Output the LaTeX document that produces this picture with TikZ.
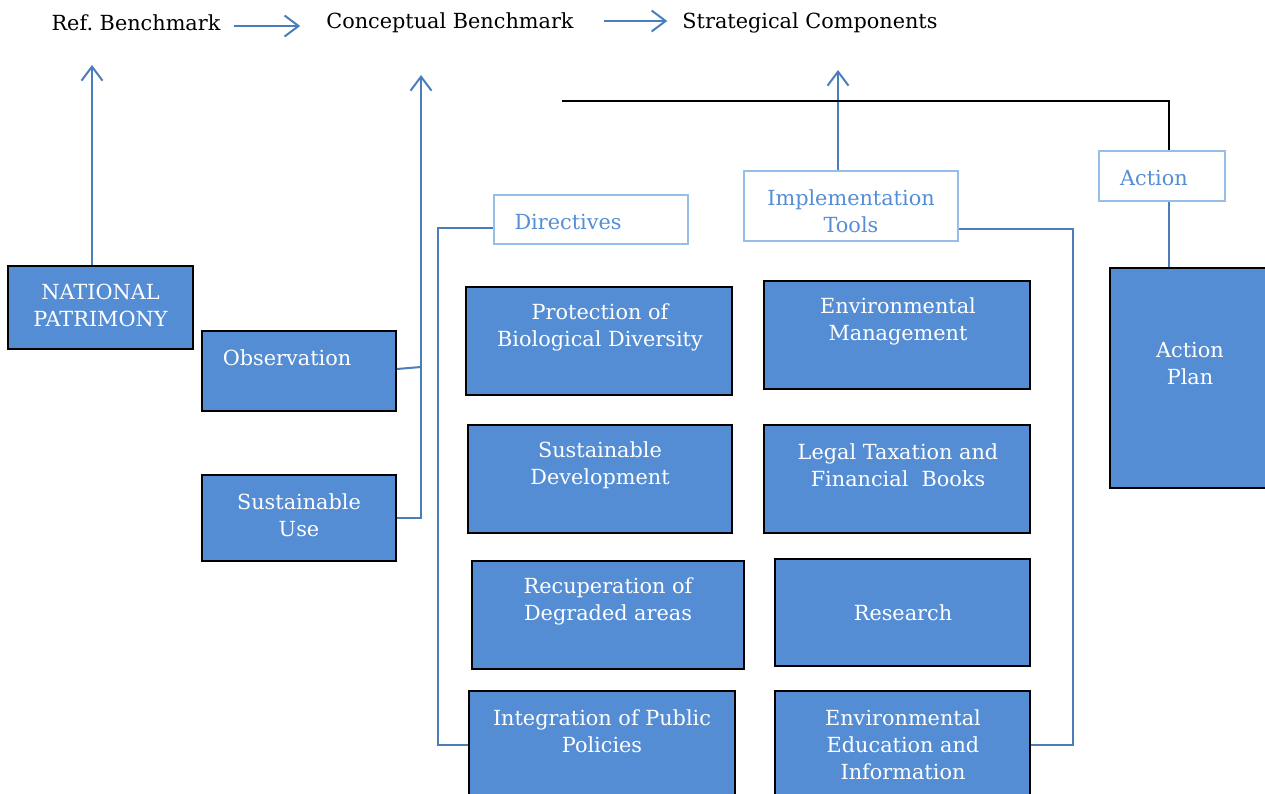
\documentclass[tikz,border=0pt]{standalone}
\usepackage{fontspec}
\setmainfont{DejaVu Serif}
\usetikzlibrary{arrows.meta}
\definecolor{boxblue}{RGB}{84,141,212}
\definecolor{linkblue}{RGB}{74,126,187}
\definecolor{paleblue}{RGB}{150,190,230}
\definecolor{headblue}{RGB}{85,142,213}
\begin{document}
\begin{tikzpicture}[x=1pt,y=-1pt,
  every node/.style={font=\fontsize{20.8}{27}\selectfont},
  bluebox/.style={draw=black, line width=2pt, fill=boxblue, inner sep=0pt},
  boxtxt/.style={text=white, align=center, inner sep=0pt},
  headbox/.style={draw=paleblue, line width=2pt, fill=white, inner sep=0pt},
  headtxt/.style={text=headblue, align=center, inner sep=0pt},
  conn/.style={draw=linkblue, line width=2pt},
  arr/.style={conn, -{Straight Barb[length=14pt,width=21pt,line width=2pt]}},
  topline/.style={draw=black, line width=2.2pt}]
\useasboundingbox (0,0) rectangle (1265,794);
\clip (0,0) rectangle (1265,794);

% heading chain
\node[inner sep=0pt] (ref) at (136,23) {Ref.\ Benchmark};
\node[inner sep=0pt] (con) at (450,23) {Conceptual Benchmark};
\node[inner sep=0pt] (str) at (810,23) {Strategical Components};
\draw[arr, shorten <=13pt, shorten >=26pt] ([yshift=-3pt]ref.east) -- ([yshift=-3pt]con.west);
\draw[arr, shorten <=30pt, shorten >=15pt] ([yshift=2pt]con.east) -- ([yshift=2pt]str.west);

% left column
\node[bluebox, minimum width=185pt, minimum height=83pt] (nat) at (100.5,307.5) {};
\node[boxtxt] (nat-t) at (100.5,305) {NATIONAL\\PATRIMONY};
\node[bluebox, minimum width=194pt, minimum height=80pt] (obs) at (299,371) {};
\node[boxtxt] (obs-t) at (287,358) {Observation};
\node[bluebox, minimum width=194pt, minimum height=86pt] (su) at (299,518) {};
\node[boxtxt] (su-t) at (299,515.5) {Sustainable\\Use};

% directives column
\node[headbox, minimum width=194pt, minimum height=49pt] (dir) at (591,219.5) {};
\node[headtxt] (dir-t) at (568,222) {Directives};
\node[bluebox, minimum width=266pt, minimum height=108pt] (pbd) at (599,341) {};
\node[boxtxt] (pbd-t) at (600,327.5) {Protection of\\Biological Diversity};
\node[bluebox, minimum width=264pt, minimum height=108pt] (sd) at (600,479) {};
\node[boxtxt] (sd-t) at (600,465.5) {Sustainable\\Development};
\node[bluebox, minimum width=272pt, minimum height=108pt] (rda) at (608,615) {};
\node[boxtxt] (rda-t) at (608,601.5) {Recuperation of\\Degraded areas};
\node[bluebox, minimum width=266pt, minimum height=108pt] (ipp) at (602,745) {};
\node[boxtxt] (ipp-t) at (602,731) {Integration of Public\\Policies};

% implementation tools column
\node[headbox, minimum width=214pt, minimum height=70pt] (imp) at (851,206) {};
\node[headtxt] (imp-t) at (851,211.5) {Implementation\\Tools};
\node[bluebox, minimum width=266pt, minimum height=108pt] (em) at (897,335) {};
\node[boxtxt] (em-t) at (898,321.5) {Environmental\\Management};
\node[bluebox, minimum width=266pt, minimum height=108pt] (ltf) at (897,479) {};
\node[boxtxt] (ltf-t) at (898,465.5) {Legal Taxation and\\Financial\ \ Books};
\node[bluebox, minimum width=255pt, minimum height=107pt] (res) at (902.5,612.5) {};
\node[boxtxt] (res-t) at (903,613) {Research};
\node[bluebox, minimum width=255pt, minimum height=108pt] (eei) at (902.5,745) {};
\node[boxtxt] (eei-t) at (903,745) {Environmental\\Education and\\Information};

% action column
\node[headbox, minimum width=126pt, minimum height=50pt] (act) at (1162,176) {};
\node[headtxt] (act-t) at (1154,178) {Action};
\node[bluebox, minimum width=165pt, minimum height=220pt] (ap) at (1192.5,378) {};
\node[boxtxt] (ap-t) at (1190,363) {Action\\Plan};

% free ends of the upward links
\coordinate (refin) at (92,65);
\coordinate (conin) at (421,75);
\coordinate (strin) at (838,70);
\coordinate (bar) at (562,101);

% connectors
\draw[arr] ([xshift=-8.5pt]nat.north) -- (refin);
\draw[arr] (su.east) -| (conin);
\draw[conn] ([yshift=2pt]obs.east) -- ([yshift=4pt]obs.east -| conin);
\draw[arr] ([xshift=-13pt]imp.north) -- (strin);
\draw[conn] ([yshift=-9pt]dir.west) -- ++(-55,0) |- (ipp.west);
\draw[conn] ([yshift=-23pt]imp.east) -- ++(114,0) |- (eei.east);
\draw[topline] (bar) -| ([xshift=7pt]act.north);
\draw[conn] ([xshift=7pt]act.south) -- ([xshift=7pt]act.south |- ap.north);
\end{tikzpicture}
\end{document}
